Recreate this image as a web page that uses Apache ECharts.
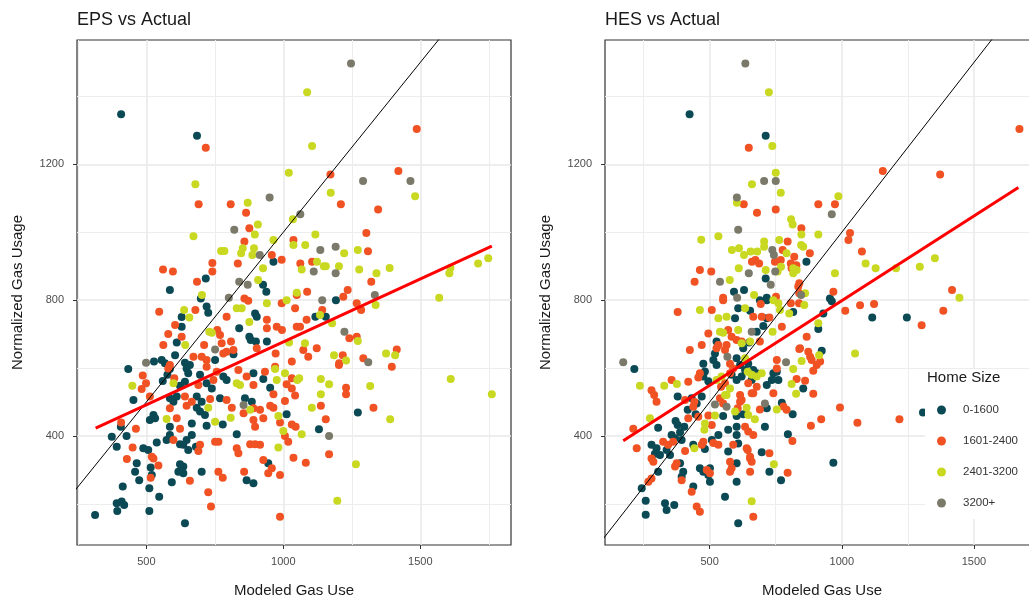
<!DOCTYPE html>
<html>
<head>
<meta charset="utf-8">
<script src="https://cdn.jsdelivr.net/npm/echarts@6/dist/echarts.min.js"></script>
<style>
  html, body { margin: 0; padding: 0; background: #fff; }
  #main { width: 1029px; height: 598px; }
</style>
</head>
<body>
<div id="main"></div>
<script>
const categories = ['0-1600', '1601-2400', '2401-3200', '3200+']
const colors = ['#0b4a55', '#f05224', '#c9d820', '#7b796a']
const panelTitles = ['EPS vs Actual', 'HES vs Actual']

// EPS (left panel): [modeled, normalized]
const eps0_1600 = [[408,1347],[685,1284],[964,913],[717,864],[926,845],[938,825],[586,830],[699,805],[720,781],[726,763],[629,750],[897,761],[903,751],[839,717],[629,722],[876,692],[881,683],[611,675],[818,641],[900,678],[605,638],[751,624],[641,616],[659,609],[528,619],[556,624],[568,614],[434,597],[940,678],[1192,800],[1117,751],[1155,751],[927,568],[952,542],[1012,464],[1272,469],[1130,420],[945,320],[560,562],[577,580],[586,597],[647,599],[653,585],[641,560],[623,548],[696,580],[720,555],[739,540],[781,575],[793,565],[891,585],[453,506],[599,501],[611,516],[586,511],[684,516],[702,501],[684,483],[696,472],[714,462],[769,511],[860,511],[885,501],[526,462],[513,447],[532,452],[586,427],[666,437],[720,430],[779,434],[407,427],[374,398],[392,368],[428,400],[538,381],[586,403],[574,388],[666,403],[647,388],[623,376],[635,374],[653,359],[681,368],[489,364],[507,359],[830,405],[516,307],[520,285],[465,320],[459,295],[474,270],[623,317],[635,310],[617,295],[635,290],[702,295],[866,270],[891,261],[593,264],[511,246],[547,221],[414,251],[392,202],[410,207],[394,179],[419,197],[511,179],[313,167],[641,143]]
const eps1601_2400 = [[717,1249],[1487,1304],[1172,1170],[1420,1180],[1210,1082],[1346,1067],[691,1082],[808,1082],[864,1057],[876,1012],[1303,998],[858,973],[1037,977],[1309,944],[958,933],[994,919],[741,909],[741,884],[834,908],[1062,908],[1105,913],[561,890],[597,884],[685,854],[1321,854],[1087,825],[1049,815],[1235,830],[858,805],[872,798],[679,771],[547,766],[793,751],[605,727],[759,712],[769,697],[580,700],[629,692],[711,668],[809,678],[775,673],[562,668],[793,648],[781,643],[818,653],[903,658],[672,633],[702,633],[720,624],[586,609],[1219,810],[994,791],[1043,776],[1085,742],[1142,771],[1268,791],[1284,771],[940,742],[976,722],[995,712],[1049,722],[1061,722],[1241,688],[1268,692],[940,717],[1122,658],[1073,653],[1091,633],[972,643],[1031,619],[1217,638],[1204,614],[1292,629],[1414,655],[1396,604],[970,604],[933,589],[1031,570],[1012,552],[1031,540],[1043,519],[964,523],[1203,609],[1229,542],[1229,523],[1006,503],[952,489],[964,483],[915,477],[927,452],[1137,489],[1155,449],[1329,483],[988,440],[1031,434],[1045,427],[1006,400],[1018,383],[915,374],[1167,346],[1037,336],[1082,321],[927,329],[958,305],[945,290],[988,285],[988,162],[487,578],[499,555],[483,538],[602,570],[580,599],[720,604],[757,589],[745,565],[690,550],[836,594],[866,575],[891,550],[513,516],[641,516],[647,489],[586,482],[666,501],[733,509],[793,506],[812,483],[855,467],[891,482],[611,452],[623,421],[897,427],[891,447],[462,421],[408,440],[599,388],[696,374],[690,356],[450,366],[520,339],[526,334],[429,332],[544,313],[516,277],[751,383],[763,383],[830,364],[836,349],[879,376],[897,376],[763,295],[779,277],[857,295],[659,268],[726,234],[736,192]]
const eps2401_3200 = [[1087,1412],[1105,1254],[1020,1175],[679,1141],[1173,1116],[1481,1106],[870,1087],[1035,1038],[907,1023],[672,988],[896,993],[1117,993],[964,977],[1037,962],[1080,962],[852,953],[773,945],[785,945],[893,953],[846,938],[887,933],[1222,938],[1272,948],[1123,913],[1148,900],[1155,900],[1203,900],[926,894],[1067,890],[1277,890],[1388,895],[1340,879],[1610,895],[1606,879],[1711,908],[1748,923],[908,859],[703,815],[1569,807],[1049,822],[1012,800],[940,791],[1134,756],[1337,786],[830,776],[848,776],[638,771],[657,749],[876,736],[730,707],[739,704],[642,668],[1178,732],[1272,680],[1021,675],[1079,673],[1185,638],[1229,622],[1375,643],[1408,638],[970,597],[976,565],[1006,585],[1051,565],[1058,570],[1137,568],[1167,552],[1317,547],[1137,523],[1104,483],[982,459],[1390,449],[1000,415],[1067,405],[982,366],[1265,317],[1197,209],[449,548],[599,555],[830,555],[842,550],[726,483],[879,477],[574,450],[751,442],[808,454],[1611,568],[1761,523]]
const eps3200plus = [[1247,1497],[950,1102],[1291,1151],[1464,1151],[1062,1053],[821,1007],[1135,948],[1191,957],[914,933],[1111,884],[1191,879],[839,854],[870,845],[1334,815],[801,807],[1142,800],[1223,707],[1310,617],[751,655],[499,616],[855,491],[1167,400]]

// HES (right panel): [modeled, normalized]
const hes0_1600 = [[424,1347],[712,1284],[866,913],[712,864],[592,825],[630,830],[955,805],[716,807],[608,776],[653,769],[596,747],[526,678],[627,658],[649,675],[215,597],[476,613],[514,624],[526,609],[520,643],[602,629],[615,609],[634,594],[646,613],[482,590],[495,561],[476,575],[583,580],[602,565],[621,575],[659,565],[379,516],[432,511],[470,516],[451,496],[417,477],[447,464],[551,459],[602,459],[627,464],[371,444],[404,427],[388,411],[379,432],[305,424],[533,403],[570,418],[602,403],[602,427],[356,403],[369,393],[394,388],[280,374],[299,364],[293,348],[312,344],[337,359],[350,344],[438,374],[482,362],[508,388],[570,354],[608,378],[388,320],[400,295],[394,280],[305,295],[463,305],[476,295],[501,305],[495,285],[602,320],[602,265],[501,265],[438,251],[243,246],[258,209],[258,168],[331,202],[366,197],[337,182],[558,221],[608,143],[690,800],[716,800],[816,765],[716,747],[703,724],[678,707],[911,715],[962,797],[1115,749],[1246,749],[924,651],[754,589],[735,565],[760,565],[716,550],[773,498],[716,482],[814,464],[796,405],[968,321],[770,270],[726,295],[930,761],[665,594],[678,585],[741,585],[854,540],[709,427],[697,352],[1307,469]]
const hes1601_2400 = [[648,1249],[1672,1304],[1155,1180],[1372,1170],[629,1082],[911,1082],[974,1082],[679,1057],[750,1067],[847,1012],[1031,998],[1025,977],[795,973],[776,948],[879,938],[1076,943],[820,928],[807,908],[660,913],[687,908],[673,918],[828,903],[463,889],[506,884],[443,854],[839,850],[551,807],[968,825],[1417,830],[751,810],[379,765],[508,771],[665,751],[570,712],[583,692],[602,683],[495,702],[470,668],[526,658],[564,668],[621,678],[425,653],[558,653],[577,613],[589,599],[577,585],[533,668],[356,565],[419,560],[457,572],[463,585],[543,545],[558,555],[615,521],[621,506],[659,526],[646,555],[280,535],[290,521],[299,501],[407,506],[442,501],[438,486],[539,511],[551,496],[615,501],[606,482],[419,452],[457,457],[495,460],[508,432],[211,421],[634,427],[646,413],[665,403],[324,383],[343,374],[362,383],[224,364],[280,334],[287,324],[407,356],[476,383],[470,374],[514,379],[533,374],[589,374],[640,364],[653,334],[659,324],[653,295],[375,320],[369,310],[394,270],[280,275],[268,265],[489,300],[501,290],[577,324],[583,305],[577,295],[432,236],[451,192],[463,177],[665,162],[551,800],[693,789],[807,791],[838,791],[697,751],[726,749],[773,722],[690,678],[867,692],[1013,769],[1069,785],[1122,789],[1302,726],[1384,769],[839,656],[880,633],[886,624],[905,609],[892,592],[754,624],[754,599],[829,568],[861,563],[892,524],[779,487],[993,484],[1059,439],[1218,449],[922,449],[883,430],[813,385],[795,292],[769,918],[747,913],[842,658],[873,648],[918,619],[678,545],[665,526],[741,526],[690,478],[791,477],[726,349],[644,359],[653,339],[835,840],[839,820],[810,894]]
const hes2401_3200 = [[724,1412],[737,1254],[750,1175],[660,1141],[769,1116],[603,1087],[987,1106],[808,1038],[814,1023],[468,978],[533,988],[911,993],[847,993],[706,973],[706,957],[763,977],[846,962],[854,957],[584,948],[611,953],[630,933],[655,943],[680,943],[1090,908],[1128,894],[1205,894],[1295,898],[1352,923],[610,894],[712,889],[770,898],[757,884],[816,894],[816,879],[576,859],[974,879],[668,815],[1445,807],[861,820],[463,771],[634,776],[533,747],[564,751],[539,707],[551,704],[608,712],[621,673],[634,629],[526,565],[545,575],[644,589],[659,580],[577,540],[564,521],[236,548],[328,548],[376,553],[274,452],[558,521],[596,472],[640,483],[646,462],[482,437],[520,460],[480,418],[442,364],[659,208],[741,800],[760,791],[858,786],[801,761],[738,707],[653,678],[1050,643],[914,638],[848,621],[816,597],[810,553],[827,524],[743,317],[791,938],[829,889],[766,771],[911,732],[697,585],[678,575],[754,478],[671,449]]
const hes3200plus = [[635,1497],[706,1151],[750,1151],[603,1102],[962,1053],[608,1007],[737,948],[743,933],[748,884],[539,854],[648,879],[731,845],[846,815],[604,807],[659,707],[173,617],[567,633],[520,493],[564,486],[789,617],[709,496]]

// fitted (lm) lines, end points
const epsFitX = [315, 1761]
const epsFitY = [423, 959]
const hesFitX = [173, 1668]
const hesFitY = [386, 1132]

// axis ranges and ticks
const yRange = [79, 1566]
const xRanges = [[247, 1831], [104, 1746]]
const xTicks = [500, 1000, 1500]
const yTicks = [400, 800, 1200]
const xMinor = [250, 750, 1250, 1750]
const yMinor = [200, 600, 1000, 1400]
const identityLine = [0, 2000]

const panelData = [
    [eps0_1600, eps1601_2400, eps2401_3200, eps3200plus],
    [hes0_1600, hes1601_2400, hes2401_3200, hes3200plus],
]
const fits = [[epsFitX, epsFitY], [hesFitX, hesFitY]]

const FONT = "'Liberation Sans', Arial, sans-serif"
const gridLeft = [77, 605]

function gridLines(p) {
    const [lo, hi] = xRanges[p]
    const style = { color: '#e9e9e9', width: 1.5, type: 'solid' }
    const thin = { color: '#ededed', width: 1, type: 'solid' }
    const out = []
    yTicks.forEach(v => out.push({ yAxis: v, lineStyle: style }))
    yMinor.forEach(v => out.push({ yAxis: v, lineStyle: thin }))
    xTicks.filter(v => v > lo && v < hi).forEach(v => out.push({ xAxis: v, lineStyle: style }))
    xMinor.filter(v => v > lo && v < hi).forEach(v => out.push({ xAxis: v, lineStyle: thin }))
    return out
}

function main() {
    const chart = echarts.init(document.getElementById('main'), null, { renderer: 'canvas' })

    // right panel runs past the canvas edge, as in the original
    const grid = gridLeft.map(left => ({
        left, top: 40, width: 434, height: 505, outerBoundsMode: 'none', containLabel: false,
        show: true, backgroundColor: '#fff', borderColor: '#333', borderWidth: 1.2,
    }))

    const plain = v => String(v)

    const xAxis = xRanges.map((r, p) => ({
        type: 'value', gridIndex: p, min: r[0], max: r[1],
        name: 'Modeled Gas Use', nameLocation: 'middle', nameGap: 38, nameMoveOverlap: false,
        nameTextStyle: { fontFamily: FONT, fontSize: 15, color: '#1a1a1a' },
        axisLine: { show: false },
        axisTick: { show: true, length: 4, customValues: xTicks, lineStyle: { color: '#333' } },
        axisLabel: { customValues: xTicks, formatter: plain, margin: 11, fontFamily: FONT, fontSize: 11, color: '#4d4d4d' },
        splitLine: { show: false },
    }))

    const yAxis = [0, 1].map(p => ({
        type: 'value', gridIndex: p, min: yRange[0], max: yRange[1],
        name: 'Normalized Gas Usage', nameLocation: 'middle', nameGap: 52, nameMoveOverlap: false,
        nameTextStyle: { fontFamily: FONT, fontSize: 15, color: '#1a1a1a' },
        axisLine: { show: false },
        axisTick: { show: true, length: 4, customValues: yTicks, lineStyle: { color: '#333' } },
        axisLabel: { customValues: yTicks, formatter: plain, margin: 13, fontFamily: FONT, fontSize: 11, color: '#4d4d4d' },
        splitLine: { show: false },
    }))

    const series = []
    panelData.forEach((groups, p) => {
        groups.forEach((data, i) => {
            const s = {
                name: categories[i], type: 'scatter', xAxisIndex: p, yAxisIndex: p,
                data, symbolSize: 8, itemStyle: { color: colors[i], opacity: 1 }, z: 2,
            }
            if (i === 0) {
                s.markLine = {
                    silent: true, symbol: ['none', 'none'], z: 1,
                    label: { show: false }, emphasis: { disabled: true },
                    data: gridLines(p),
                }
            }
            series.push(s)
        })
        // y = x reference
        series.push({
            type: 'line', xAxisIndex: p, yAxisIndex: p, z: 3, silent: true,
            data: identityLine.map(v => [v, v]), showSymbol: false, symbol: 'none',
            lineStyle: { color: '#000', width: 1 }, clip: true,
        })
        // regression line
        const [fx, fy] = fits[p]
        series.push({
            type: 'line', xAxisIndex: p, yAxisIndex: p, z: 4, silent: true,
            data: fx.map((x, k) => [x, fy[k]]), showSymbol: false, symbol: 'none',
            lineStyle: { color: '#ff0000', width: 3 }, clip: true,
        })
    })

    const option = {
        animation: false,
        backgroundColor: '#fff',
        title: panelTitles.map((text, p) => ({
            text, left: gridLeft[p], top: 11, padding: 0,
            textStyle: { fontFamily: FONT, fontSize: 18, fontWeight: 'normal', color: '#1a1a1a' },
        })),
        grid, xAxis, yAxis, series,
        legend: {
            data: categories, orient: 'vertical', left: 937, top: 403, padding: 0,
            itemWidth: 9, itemHeight: 9, itemGap: 17, icon: 'circle', z: 20,
            selectedMode: false,
            textStyle: { fontFamily: FONT, fontSize: 11.5, color: '#333', lineHeight: 14, padding: [0, 0, 0, 12] },
        },
        graphic: [
            { type: 'rect', z: 15, silent: true, shape: { x: 925, y: 369, width: 110, height: 150 }, style: { fill: '#fff' } },
            { type: 'text', z: 20, silent: true, x: 927, y: 378, style: { text: 'Home Size', font: "15px 'Liberation Sans', Arial, sans-serif", fill: '#1a1a1a', verticalAlign: 'middle' } },
        ],
    }
    chart.setOption(option)
}

window.addEventListener('load', () => {
    main()
})
</script>
</body>
</html>
